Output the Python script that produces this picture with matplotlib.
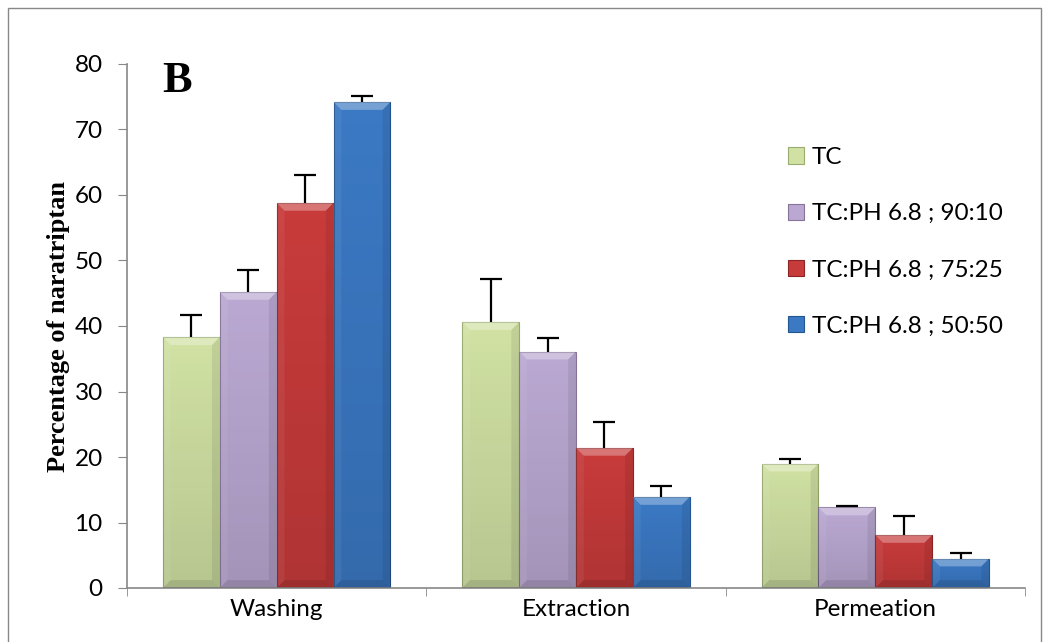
import matplotlib
matplotlib.use("Agg")
import matplotlib.pyplot as plt
from matplotlib.patches import Polygon, Rectangle
from matplotlib.colors import LinearSegmentedColormap
import numpy as np

categories = ["Washing", "Extraction", "Permeation"]
series = ["TC", "TC:PH 6.8 ; 90:10", "TC:PH 6.8 ; 75:25", "TC:PH 6.8 ; 50:50"]
means = [
    [38.3, 40.6, 19.0],
    [45.2, 36.1, 12.3],
    [58.8, 21.4, 8.1],
    [74.2, 13.9, 4.5],
]
errors = [
    [3.4, 6.5, 0.7],
    [3.4, 2.0, 0.2],
    [4.2, 4.0, 2.9],
    [0.9, 1.6, 0.8],
]
colors = ["#d0e1a3", "#baa8d2", "#c83b3b", "#3b79c4"]
edges = ["#9aab70", "#857399", "#8c2426", "#24558f"]

plt.rcParams["font.family"] = ["Lato", "DejaVu Sans"]

fig = plt.figure(figsize=(10.5, 6.42), dpi=100)
ax = fig.add_axes([127 / 1050, 1 - 588 / 642, 898 / 1050, 524 / 642])

# outer chart border
fig.patches.append(Rectangle((8 / 1050, -0.01), 1033 / 1050, 1 - 8 / 642 + 0.01,
                             transform=fig.transFigure, fill=False,
                             edgecolor="#888888", linewidth=1.0))

x = np.arange(len(categories))
w = 0.19
shade = LinearSegmentedColormap.from_list("shade", [(0, 0, 0, 0.12), (0, 0, 0, 0.0)])


def bevel(ax, x0, x1, h, bx, by):
    # light top, dark bottom, shaded sides to fake the raised look
    bx = min(bx, (x1 - x0) / 2)
    by = min(by, h / 2)
    top = [(x0, h), (x1, h), (x1 - bx, h - by), (x0 + bx, h - by)]
    bot = [(x0, 0), (x1, 0), (x1 - bx, by), (x0 + bx, by)]
    left = [(x0, 0), (x0, h), (x0 + bx, h - by), (x0 + bx, by)]
    right = [(x1, 0), (x1, h), (x1 - bx, h - by), (x1 - bx, by)]
    ax.add_patch(Polygon(top, closed=True, facecolor="white", alpha=0.3, lw=0, zorder=3))
    ax.add_patch(Polygon(bot, closed=True, facecolor="black", alpha=0.10, lw=0, zorder=3))
    ax.add_patch(Polygon(left, closed=True, facecolor="white", alpha=0.06, lw=0, zorder=3))
    ax.add_patch(Polygon(right, closed=True, facecolor="black", alpha=0.08, lw=0, zorder=3))


for i, name in enumerate(series):
    pos = x + (i - 1.5) * w
    bars = ax.bar(pos, means[i], w, color=colors[i], edgecolor=edges[i],
                  linewidth=0.8, label=name, zorder=2)
    for b in bars:
        x0 = b.get_x()
        h = b.get_height()
        grad = np.linspace(0, 1, 64).reshape(-1, 1)
        im = ax.imshow(grad, extent=[x0, x0 + w, 0, h], origin="lower",
                       cmap=shade, aspect="auto", zorder=2.5)
        im.set_clip_path(b)
        bevel(ax, x0, x0 + w, h, 0.026, 1.2)
    # upper half of the error bar only
    _, caps, _ = ax.errorbar(pos, means[i], yerr=[np.zeros(3), errors[i]], fmt="none",
                             ecolor="black", elinewidth=1.6, capsize=8, capthick=1.6,
                             zorder=4)
    caps[0].set_visible(False)

ax.set_xlim(-0.5, 2.5)
ax.set_ylim(0, 80)
ax.set_yticks(np.arange(0, 81, 10))
ax.set_xticks(x)
ax.set_xticklabels(categories)
ax.set_xticks([-0.5, 0.5, 1.5, 2.5], minor=True)
ax.tick_params(axis="x", which="major", length=0, pad=8, labelsize=17.5)
ax.tick_params(axis="x", which="minor", length=6, direction="out", color="#888888")
ax.tick_params(axis="y", length=6.5, direction="out", color="#888888", pad=11,
               labelsize=17.5)

for s in ["top", "right"]:
    ax.spines[s].set_visible(False)
for s in ["left", "bottom"]:
    ax.spines[s].set_color("#888888")
    ax.spines[s].set_linewidth(1.2)

ax.set_ylabel("Percentage of naratriptan", family="Liberation Serif",
              fontweight="bold", fontsize=19, labelpad=3)

fig.text(162 / 1050, 1 - 92 / 642, "B", family="Liberation Serif",
         fontweight="bold", fontsize=32, va="baseline", ha="left")

leg = ax.legend(loc="upper left", bbox_to_anchor=(0.725, 0.86), frameon=False,
                fontsize=17.5, handlelength=0.66, handleheight=0.66,
                handletextpad=0.33, labelspacing=1.45, borderaxespad=0)

fig.savefig("out.png", dpi=100)
